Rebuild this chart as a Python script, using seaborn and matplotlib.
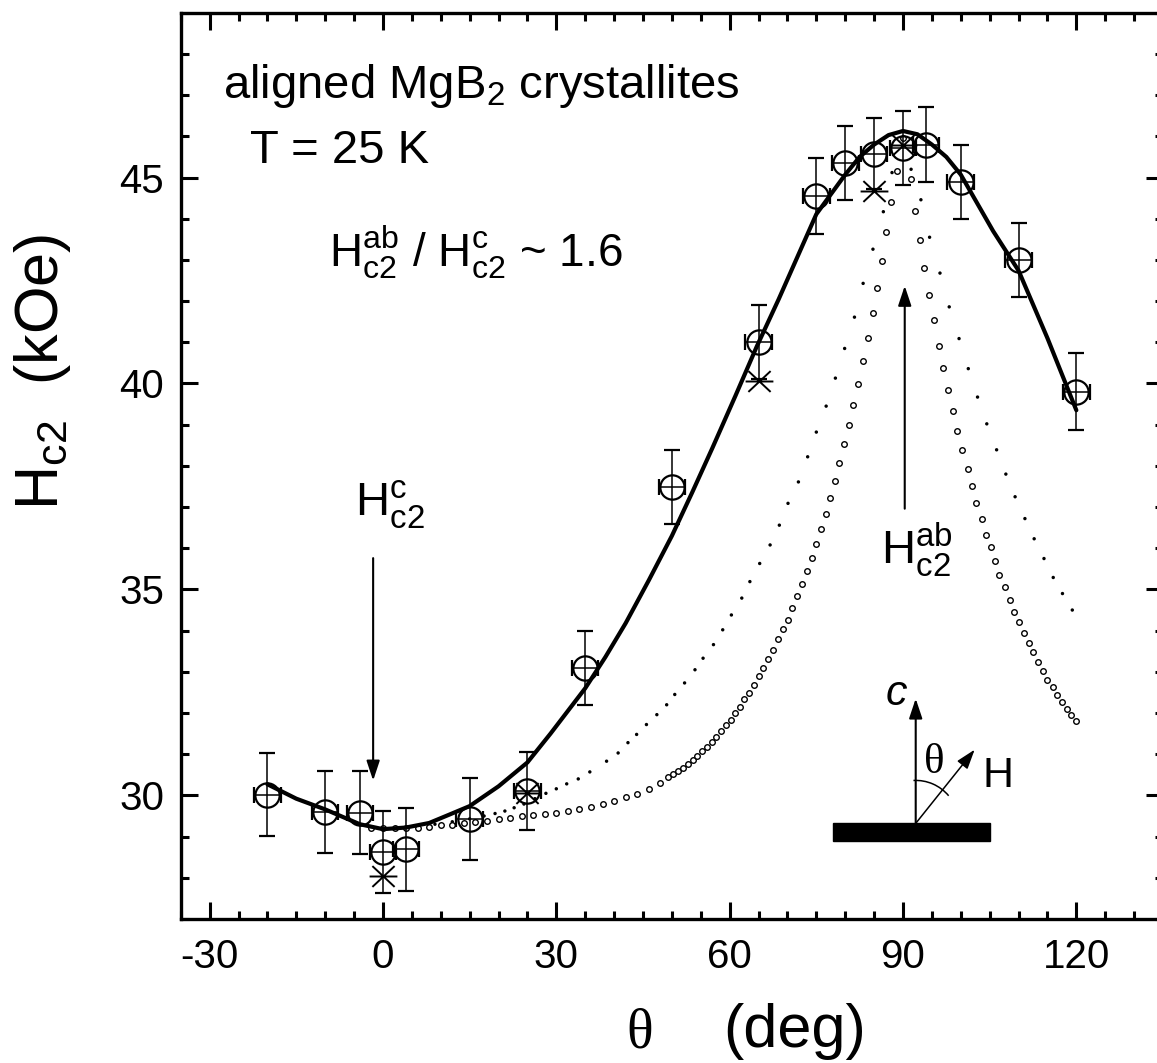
import numpy as np
import seaborn as sns
import matplotlib
import matplotlib.pyplot as plt
from matplotlib.path import Path
from matplotlib.patches import Rectangle, Arc
from matplotlib.transforms import ScaledTranslation

matplotlib.use("Agg")

# ----------------------------
# data
# ----------------------------
# measured points (circle + error bars)
theta_pts = [-20, -10, -4, 0, 4, 15, 25, 35, 50, 65, 75, 80, 85, 90, 94, 100, 110, 120]
hc2_pts = [30.02, 29.6, 29.58, 28.62, 28.69, 29.42, 30.1, 33.1, 37.48, 41.0,
           44.55, 45.36, 45.58, 45.72, 45.8, 44.9, 43.0, 39.8]
hc2_err = [1.0, 1.0, 1.0, 1.0, 1.0, 1.0, 0.95, 0.9, 0.9, 0.9,
           0.93, 0.9, 0.87, 0.9, 0.9, 0.9, 0.9, 0.93]
theta_err = 2.3

# second set (asterisks)
theta_star = [0, 25, 65, 85, 90]
hc2_star = [28.05, 30.05, 40.07, 44.67, 45.78]

# solid fit curve
fit_theta = [-20, -15, -10, -4, 0, 4, 8, 11.6, 15, 20, 25, 29, 35, 38.5, 42, 46,
             50, 53.5, 57, 61, 64.7, 68.5, 75, 80, 82.5, 85, 87.5, 90, 92.5, 95,
             97.5, 100, 105.6, 110, 115, 120]
fit_hc2 = [30.27, 29.92, 29.66, 29.30, 29.18, 29.22, 29.33, 29.54, 29.74, 30.22,
           30.8, 31.5, 32.6, 33.36, 34.18, 35.22, 36.3, 37.35, 38.43, 39.7,
           40.9, 42.05, 44.11, 45.07, 45.5, 45.8, 46.03, 46.13, 46.05, 45.8,
           45.5, 45.07, 43.7, 42.74, 41.1, 39.35]

# curve drawn with small open circles
circ_theta_flat = [-2, 0, 2, 4, 6, 8, 10, 12, 14, 16, 18, 20, 22, 24, 26, 28,
                   30, 32, 34, 36, 38, 40, 42, 44, 46, 48]
circ_hc2_flat = [29.22, 29.2, 29.2, 29.21, 29.22, 29.24, 29.27, 29.29, 29.32,
                 29.35, 29.39, 29.43, 29.46, 29.49, 29.52, 29.55, 29.58, 29.62,
                 29.67, 29.72, 29.79, 29.86, 29.95, 30.03, 30.15, 30.3]
circ_theta_left = [49.38, 50.24, 51.11, 51.87, 52.73, 53.60, 54.40, 55.26, 56.02,
                   56.88, 57.63, 58.50, 59.31, 60.17, 60.92, 61.79, 62.54, 63.40,
                   64.21, 65.07, 65.82, 66.69, 67.55, 68.42, 69.18, 70.04, 70.84,
                   71.60, 72.46, 73.33, 74.19, 74.94, 75.75, 76.61, 77.36, 78.23,
                   78.98, 79.78, 80.71, 81.40, 82.27, 83.13, 83.88, 84.75, 85.5,
                   86.3, 87.1, 88.0, 88.9, 90.0]
circ_hc2_left = [30.44, 30.51, 30.59, 30.67, 30.75, 30.86, 30.95, 31.08, 31.18,
                 31.30, 31.42, 31.56, 31.70, 31.84, 32.01, 32.15, 32.33, 32.49,
                 32.69, 32.90, 33.10, 33.32, 33.54, 33.79, 34.03, 34.27, 34.56,
                 34.84, 35.12, 35.44, 35.77, 36.11, 36.46, 36.84, 37.23, 37.63,
                 38.06, 38.52, 38.98, 39.47, 39.98, 40.54, 41.11, 41.70, 42.31,
                 42.98, 43.68, 44.4, 45.17, 45.95]
circ_theta_right = [91.3, 92.0, 92.9, 93.7, 94.5, 95.3, 96.2, 97.0, 97.8, 98.6,
                    99.4, 100.2, 101.2, 102.0, 102.7, 103.6, 104.4, 105.2, 106.0,
                    106.7, 107.6, 108.5, 109.2, 110.1, 110.9, 111.8, 112.5, 113.4,
                    114.2, 115.0, 115.9, 116.7, 117.5, 118.4, 119.1, 120.0]
circ_hc2_right = [44.97, 44.19, 43.48, 42.8, 42.15, 41.53, 40.92, 40.38, 39.83,
                  39.32, 38.84, 38.39, 37.92, 37.51, 37.11, 36.72, 36.33, 36.02,
                  35.68, 35.35, 35.05, 34.74, 34.45, 34.2, 33.94, 33.69, 33.47,
                  33.24, 33.02, 32.81, 32.62, 32.44, 32.26, 32.1, 31.96, 31.8]

# curve drawn with small dots
dot_theta_left = [0, 3, 6, 9, 12, 15, 17.5, 19.4, 21.1, 22.7, 24.4, 26.3, 28.2,
                  30.0, 31.8, 33.8, 35.8, 38.7, 40.7, 42.4, 43.9, 45.6, 47.4, 49.1,
                  50.5, 52.2, 54.0, 55.4, 57.2, 58.8, 60.3, 62.1, 63.5, 65.2, 67.0,
                  68.6, 70.1, 71.9, 73.5, 75.0, 76.7, 78.3, 79.9, 81.6, 83.1, 84.8,
                  86.6, 88.1, 90.0]
dot_hc2_left = [29.2, 29.21, 29.25, 29.3, 29.36, 29.43, 29.5, 29.56, 29.62, 29.7,
                29.79, 29.92, 30.05, 30.16, 30.28, 30.4, 30.57, 30.83, 31.03, 31.28,
                31.48, 31.72, 31.96, 32.2, 32.45, 32.73, 33.05, 33.33, 33.66, 34.02,
                34.38, 34.79, 35.19, 35.63, 36.08, 36.56, 37.09, 37.61, 38.22, 38.82,
                39.45, 40.13, 40.85, 41.61, 42.43, 43.26, 44.17, 45.12, 45.95]
dot_theta_right = [91.4, 93.1, 94.6, 96.4, 98.0, 99.7, 101.3, 102.9, 104.5, 106.2,
                   107.8, 109.4, 111.1, 112.7, 114.4, 116.0, 117.6, 119.3]
dot_hc2_right = [45.2, 44.46, 43.55, 42.68, 41.86, 41.09, 40.36, 39.67, 39.02,
                 38.39, 37.8, 37.25, 36.72, 36.23, 35.75, 35.29, 34.9, 34.5]

# ----------------------------
# style
# ----------------------------
sns.set_theme(style="ticks")
plt.rcParams["font.family"] = ["Liberation Sans", "DejaVu Sans"]
plt.rcParams["mathtext.fontset"] = "custom"
plt.rcParams["mathtext.rm"] = "Liberation Sans"
plt.rcParams["mathtext.it"] = "Liberation Sans:italic"
plt.rcParams["mathtext.default"] = "regular"
plt.rcParams["axes.unicode_minus"] = False
plt.rcParams["text.color"] = "black"
plt.rcParams["axes.labelcolor"] = "black"

W, H = 1157, 1063
fig = plt.figure(figsize=(W / 100, H / 100), dpi=100)
ax = fig.add_axes([0.1562, 0.1355, 0.849, 0.8525])


def fx(px):
    return px / W


def fy(py):
    return 1 - py / H


# dotted curve (small dots)
dot_theta = dot_theta_left + dot_theta_right
dot_hc2 = dot_hc2_left + dot_hc2_right
sns.scatterplot(x=dot_theta, y=dot_hc2, ax=ax, s=6, color="black",
                edgecolor="none", zorder=2, legend=False)

# curve of small open circles
circ_theta = circ_theta_flat + circ_theta_left + circ_theta_right
circ_hc2 = circ_hc2_flat + circ_hc2_left + circ_hc2_right
sns.scatterplot(x=circ_theta, y=circ_hc2, ax=ax, s=16, color="white",
                edgecolor="black", linewidth=1.0, zorder=3, legend=False)

# solid fit curve
sns.lineplot(x=fit_theta, y=fit_hc2, ax=ax, sort=False, estimator=None,
             color="black", lw=3.0, zorder=5)

# measured points with error bars
ax.errorbar(theta_pts, hc2_pts, yerr=hc2_err, xerr=theta_err, fmt="o",
            ms=17.5, mfc="none", mec="black", mew=1.6, ecolor="black",
            elinewidth=1.1, capsize=6, capthick=1.1, zorder=4)

# asterisks
star = Path([(-1, 0), (1, 0), (-0.8, -0.75), (0.8, 0.75), (-0.8, 0.75), (0.8, -0.75)],
            [Path.MOVETO, Path.LINETO, Path.MOVETO, Path.LINETO, Path.MOVETO, Path.LINETO])
ax.plot(theta_star, hc2_star, ls="none", marker=star, ms=20, mew=1.4,
        mec="black", mfc="none", zorder=4)

# ----------------------------
# axes
# ----------------------------
ax.set_xlim(-35, 135)
ax.set_ylim(27, 49)
ax.set_xticks([-30, 0, 30, 60, 90, 120])
ax.set_xticks(np.arange(-35, 136, 5), minor=True)
ax.set_yticks([30, 35, 40, 45])
ax.set_yticks(np.arange(27, 50, 1), minor=True)
ax.tick_params(which="both", direction="in", top=True, right=True, width=2.2,
               colors="black", labelsize=29)
ax.tick_params(which="major", length=12)
ax.tick_params(which="minor", length=6)
ax.tick_params(axis="x", pad=14)
ax.tick_params(axis="y", pad=12)
for sp in ax.spines.values():
    sp.set_linewidth(2.4)
    sp.set_color("black")
ax.set_xlabel("")
ax.set_ylabel("")

# axis titles
fig.text(fx(58), fy(372), r"$H_{c2}$  (kOe)", rotation=90, rotation_mode="anchor",
         ha="center", va="baseline", fontsize=44)
fig.text(fx(640), fy(1047), "\u03b8", family=["Liberation Serif", "DejaVu Serif"],
         ha="center", va="baseline", fontsize=40)
fig.text(fx(723), fy(1047), "(deg)", ha="left", va="baseline", fontsize=44)

# labels inside the plot
fig.text(fx(223), fy(98), r"aligned $MgB_2$ crystallites", fontsize=34, va="baseline")
fig.text(fx(250), fy(163), "T = 25 K", fontsize=34, va="baseline")
fig.text(fx(329), fy(267), r"$H_{c2}^{ab}$ / $H_{c2}^{c}$ ~ 1.6", fontsize=33,
         va="baseline")
fig.text(fx(355), fy(516), r"$H_{c2}^{c}$", fontsize=34, va="baseline")
fig.text(fx(881), fy(564), r"$H_{c2}^{ab}$", fontsize=34, va="baseline")

arrow = dict(arrowstyle="-|>,head_length=0.6,head_width=0.2", lw=1.5,
             color="black", shrinkA=0, shrinkB=0, mutation_scale=20)
ax.annotate("", xy=(-1.7, 30.36), xytext=(-1.7, 35.76), arrowprops=arrow)
ax.annotate("", xy=(90.3, 42.37), xytext=(90.3, 36.96), arrowprops=arrow)

# sketch of the geometry
ax.add_patch(Rectangle((77.9, 28.89), 27.1, 0.43, color="black", zorder=6))
ax.annotate("", xy=(92.2, 32.35), xytext=(92.2, 29.32), arrowprops=arrow, zorder=6)
thin = dict(arrow, lw=1.1)
ax.annotate("", xy=(102.4, 31.11), xytext=(92.2, 29.32), arrowprops=thin, zorder=6)
arc_trans = fig.dpi_scale_trans + ScaledTranslation(92.2, 29.32, ax.transData)
ax.add_patch(Arc((0, 0), 0.86, 0.86, theta1=40, theta2=93, lw=1.1,
                 color="black", transform=arc_trans, zorder=6))
fig.text(fx(886), fy(705), "c", fontsize=31, style="italic", va="baseline")
fig.text(fx(924), fy(773), "\u03b8", family=["Liberation Serif", "DejaVu Serif"],
         fontsize=31, va="baseline")
fig.text(fx(983), fy(787), "H", fontsize=31, va="baseline")

fig.savefig("out.png", dpi=100)
plt.close(fig)
